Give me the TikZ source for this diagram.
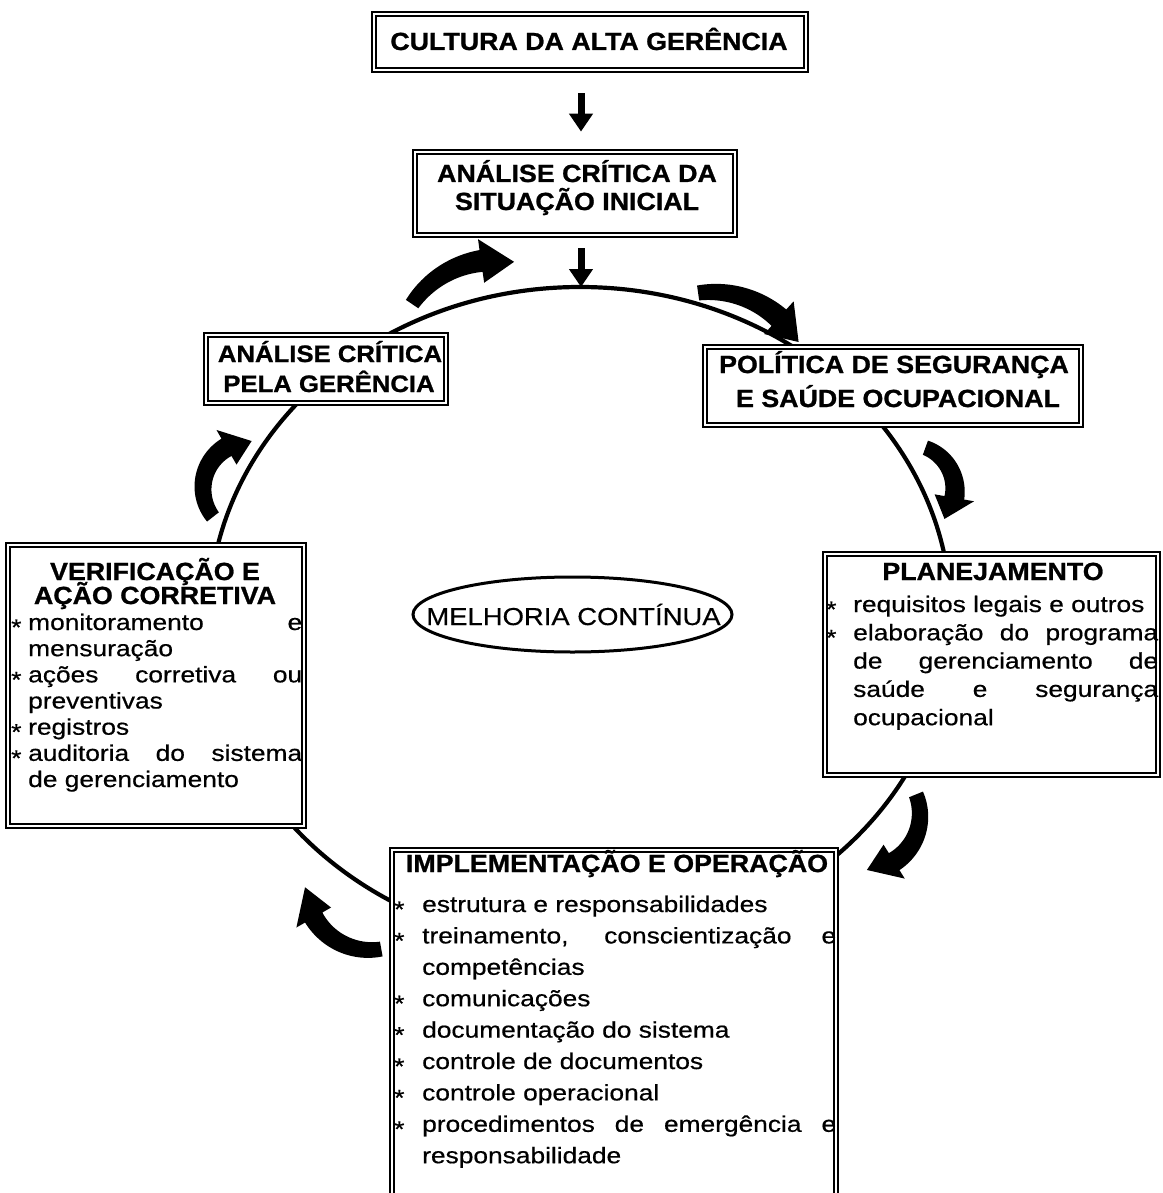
\documentclass[tikz,border=0pt]{standalone}
\usepackage{fontspec}
\setmainfont{Liberation Sans}
\newfontfamily\ttlfont[FakeStretch=1.08, FakeBold=1]{Liberation Sans}
\newfontfamily\widefont[FakeStretch=1.17, FakeBold=0.6]{Liberation Sans}
\newfontfamily\melfont[FakeStretch=1.12, FakeBold=0.4]{Liberation Sans}
\usetikzlibrary{arrows.meta,shapes.geometric}

% list helpers: bullet line, continuation line, justified line
\newlength\bulind
\newcommand\bul[1]{\makebox[\bulind][l]{\raisebox{-5pt}{*}}#1}
\newcommand\cnt[1]{\hspace*{\bulind}#1}
\newcommand\jst[2]{\makebox[#1][s]{#2}}

% thick tapered arrow bent along a circle:
% centre x, centre y, radius, tail angle, shaft end angle, tip angle, tail width, shaft width, head width
\newcommand\curvarrow[9]{%
  \fill plot[domain=0:1, samples=30, variable=\s]
      ({#1+(#3+(#7+(#8-#7)*\s)/2)*cos(#4+(#5-#4)*\s)},
       {#2+(#3+(#7+(#8-#7)*\s)/2)*sin(#4+(#5-#4)*\s)})
    -- ({#1+(#3+#9/2)*cos(#5)},{#2+(#3+#9/2)*sin(#5)})
    -- ({#1+#3*cos(#6)},{#2+#3*sin(#6)})
    -- ({#1+(#3-#9/2)*cos(#5)},{#2+(#3-#9/2)*sin(#5)})
    -- plot[domain=0:1, samples=30, variable=\s]
      ({#1+(#3-(#8-(#8-#7)*\s)/2)*cos(#5-(#5-#4)*\s)},
       {#2+(#3-(#8-(#8-#7)*\s)/2)*sin(#5-(#5-#4)*\s)})
    -- cycle;}

\begin{document}
\begin{tikzpicture}[x=1pt,y=-1pt,
  box/.style={draw, line width=2.8pt, fill=white, inner sep=0pt,
    path picture={\draw[line width=1.2pt]
      ([shift={(4pt,-4pt)}]path picture bounding box.north west) rectangle
      ([shift={(-4pt,4pt)}]path picture bounding box.south east);}},
  ttl/.style={inner sep=0pt, anchor=base, font=\ttlfont\bfseries\fontsize{24.8}{28}\selectfont},
  smallttl/.style={ttl, font=\ttlfont\bfseries\fontsize{23.8}{28}\selectfont},
  body/.style={inner sep=0pt, anchor=base west, font=\widefont\fontsize{22.5}{28}\selectfont},
  downarrow/.style={line width=7pt, -{Triangle[width=23pt,length=18pt]}}
]
\useasboundingbox (0,0) rectangle (1162,1193);
\fill[white] (0,0) rectangle (1162,1193);
\clip (0,0) rectangle (1162,1193);

% the cycle
\draw[line width=4.2pt] (580,617) ellipse [x radius=371, y radius=330];
\coordinate (ringtop) at (581,287);
\coordinate (axis) at (581,0);

% clockwise arrows round the cycle
\curvarrow{495}{360}{100}{214}{262}{281}{15}{22}{44}
\curvarrow{712}{392}{100}{262}{312}{330}{15}{22}{44}
\curvarrow{910}{490}{45}{290}{370}{400}{15}{20}{40}
\curvarrow{865}{815}{55}{338}{418}{448}{15}{20}{40}
\curvarrow{370}{885}{65}{80}{150}{178}{15}{20}{40}
\curvarrow{250}{488}{47}{142}{240}{272}{15}{20}{40}

% top of the chain
\node[box, minimum width=436, minimum height=60] (cultura) at (590,42) {};
\node[ttl] (cultura-t) at (589,50) {CULTURA DA ALTA GERÊNCIA};

\node[box, minimum width=324, minimum height=87] (inicial) at (575,193.5) {};
\node[ttl] (inicial-t1) at (577,182) {ANÁLISE CRÍTICA DA};
\node[ttl] (inicial-t2) at (577,210) {SITUAÇÃO INICIAL};

\draw[downarrow, shorten <=20pt, shorten >=17pt] (cultura.south -| axis) -- (inicial.north -| axis);
\draw[downarrow, shorten <=10pt] (inicial.south -| axis) -- (ringtop);

% stages on the cycle
\node[box, minimum width=244, minimum height=72] (gerencia) at (326,369) {};
\node[smallttl] (gerencia-t1) at (330,362) {ANÁLISE CRÍTICA};
\node[smallttl] (gerencia-t2) at (329,392) {PELA GERÊNCIA};

\node[box, minimum width=380, minimum height=82] (politica) at (893,386) {};
\node[ttl] (politica-t1) at (894,373) {POLÍTICA DE SEGURANÇA};
\node[ttl] (politica-t2) at (898,407) {E SAÚDE OCUPACIONAL};

\node[box, minimum width=337, minimum height=225] (plan) at (991.5,664.5) {};
\node[ttl] (plan-t) at (993,580) {PLANEJAMENTO};
\setlength\bulind{27pt}
\foreach \txt [count=\i from 0] in {
  {\bul{requisitos legais e outros}},
  {\bul{\jst{305pt}{elaboração do programa}}},
  {\cnt{\jst{305pt}{de gerenciamento de}}},
  {\cnt{\jst{305pt}{saúde e segurança}}},
  {\cnt{ocupacional}}}
  \node[body] (plan-\i) at (826,612+28.3*\i) {\txt};

\node[box, minimum width=300, minimum height=285] (verif) at (156,685.5) {};
\node[ttl] (verif-t1) at (155,580) {VERIFICAÇÃO E};
\node[ttl] (verif-t2) at (155,604) {AÇÃO CORRETIVA};
\setlength\bulind{17pt}
\foreach \txt [count=\i from 0] in {
  {\bul{\jst{274pt}{monitoramento e}}},
  {\cnt{mensuração}},
  {\bul{\jst{274pt}{ações corretiva ou}}},
  {\cnt{preventivas}},
  {\bul{registros}},
  {\bul{\jst{274pt}{auditoria do sistema}}},
  {\cnt{de gerenciamento}}}
  \node[body] (verif-\i) at (11,630+26.17*\i) {\txt};

\node[box, minimum width=448, minimum height=367] (impl) at (614,1031.5) {};
\node[ttl] (impl-t) at (617,872) {IMPLEMENTAÇÃO E OPERAÇÃO};
\setlength\bulind{28pt}
\foreach \txt [count=\i from 0] in {
  {\bul{estrutura e responsabilidades}},
  {\bul{\jst{414pt}{treinamento, conscientização e}}},
  {\cnt{competências}},
  {\bul{comunicações}},
  {\bul{documentação do sistema}},
  {\bul{controle de documentos}},
  {\bul{controle operacional}},
  {\bul{\jst{414pt}{procedimentos de emergência e}}},
  {\cnt{responsabilidade}}}
  \node[body] (impl-\i) at (394,912+31.4*\i) {\txt};

% centre of the cycle
\node[draw, ellipse, line width=3pt, minimum width=319, minimum height=75, inner sep=0pt] (melhoria) at (572.5,614.5) {};
\node[inner sep=0pt, anchor=base, font=\melfont\fontsize{24.5}{28}\selectfont] (melhoria-t) at (573.5,625) {MELHORIA CONTÍNUA};
\end{tikzpicture}
\end{document}
